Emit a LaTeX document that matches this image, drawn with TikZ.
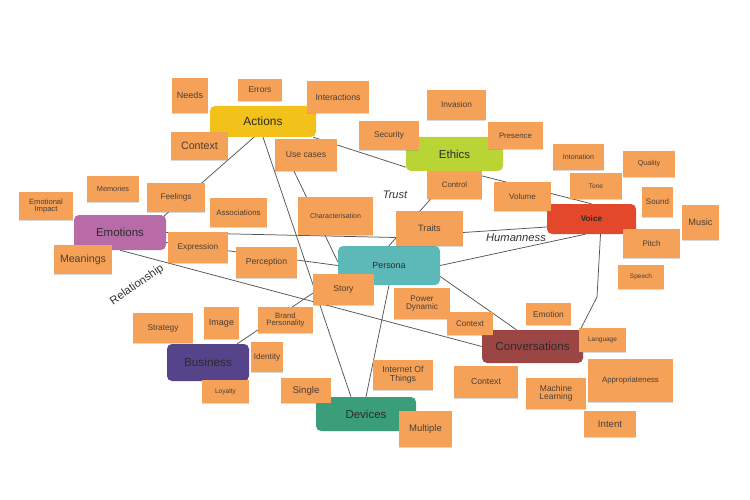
\documentclass[tikz,border=0pt]{standalone}
\usepackage{fontspec}
\setmainfont{Liberation Sans}
\usetikzlibrary{shadows,calc}
\definecolor{notefill}{HTML}{F5A157}
\definecolor{notetext}{HTML}{4A3F38}
\definecolor{hubtext}{HTML}{2B2B2B}
\definecolor{linec}{HTML}{555555}
\definecolor{lblc}{HTML}{333333}
\definecolor{actc}{HTML}{F2C21B}
\definecolor{ethc}{HTML}{B9D435}
\definecolor{voic}{HTML}{E4482A}
\definecolor{emoc}{HTML}{B96BA8}
\definecolor{perc}{HTML}{5CB9B7}
\definecolor{conc}{HTML}{9B4545}
\definecolor{busc}{HTML}{56448A}
\definecolor{devc}{HTML}{3A9E7B}
\pgfdeclarelayer{bg}
\pgfsetlayers{bg,main}
\begin{document}
\begin{tikzpicture}[x=1pt,y=-1pt,
  fs/.style={font=\fontsize{#1}{#1}\selectfont},
  sz/.style 2 args={minimum width=#1, minimum height=#2},
  note/.style={fill=notefill, draw=none, inner sep=0pt, align=center, text=notetext,
    drop shadow={shadow xshift=0.4pt, shadow yshift=-1.4pt, opacity=0.3}},
  hub/.style={fill=#1, rounded corners=5pt, inner sep=0pt, align=center, text=hubtext},
  link/.style={draw=linec, line width=0.75pt},
  lbl/.style={text=lblc, inner sep=0pt}]
\useasboundingbox (0,0) rectangle (750,500);
% hubs
\node[hub=actc, sz={106}{31}, fs=11.9] (actions) at (263,121.5) {Actions};
\node[hub=ethc, sz={97}{34}, fs=11.4] (ethics) at (454.5,154) {Ethics};
\node[hub=voic, sz={89}{30}, font=\fontsize{8.2}{8.2}\selectfont\bfseries] (voice) at (591.5,219) {Voice};
\node[hub=emoc, sz={92}{35}, fs=11.5] (emotions) at (120,232.5) {Emotions};
\node[hub=perc, sz={102}{39}, fs=8.9] (persona) at (389,265.5) {Persona};
\node[hub=conc, sz={101}{33}, fs=11.6] (conversations) at (532.5,346.5) {Conversations};
\node[hub=busc, sz={82}{37}, fs=11.8] (business) at (208,362.5) {Business};
\node[hub=devc, sz={100}{34}, fs=11.5] (devices) at (366,414) {Devices};
% notes
\node[note, sz={36}{35}, fs=9] (needs) at (190,95.5) {Needs};
\node[note, sz={44}{22}, fs=8.4] (errors) at (260,90) {Errors};
\node[note, sz={62}{32}, fs=8.7] (interactions) at (338,97) {Interactions};
\node[note, sz={57}{28}, fs=10.7] (contexta) at (199.5,146) {Context};
\node[note, sz={62}{32}, fs=8.6] (usecases) at (306,155) {Use cases};
\node[note, sz={52}{26}, fs=7.3] (memories) at (113,189) {Memories};
\node[note, sz={58}{29}, fs=8.2] (feelings) at (176,197.5) {Feelings};
\node[note, sz={54}{28}, fs=7.6] (emoimpact) at (46,206) {Emotional\\Impact};
\node[note, sz={57}{29}, fs=7.9] (associations) at (238.5,212.5) {Associations};
\node[note, sz={75}{38}, fs=7] (characterisation) at (335.5,216) {Characterisation};
\node[note, sz={60}{29}, fs=8.3] (security) at (389,135.5) {Security};
\node[note, sz={59}{30}, fs=8.3] (invasion) at (456.5,105) {Invasion};
\node[note, sz={55}{27}, fs=7.8] (presence) at (515.5,135.5) {Presence};
\node[note, sz={55}{28}, fs=7.8] (control) at (454.5,185) {Control};
\node[note, sz={57}{29}, fs=8] (volume) at (522.5,196.5) {Volume};
\node[note, sz={67}{35}, fs=9.2] (traits) at (429.5,228.5) {Traits};
\node[note, sz={51}{26}, fs=7.1] (intonation) at (578.5,157) {Intonation};
\node[note, sz={52}{26}, fs=7.1] (quality) at (649,164) {Quality};
\node[note, sz={52}{26}, fs=6.6] (tone) at (596,186) {Tone};
\node[note, sz={31}{30}, fs=8] (sound) at (657.5,202) {Sound};
\node[note, sz={37}{35}, fs=9.2] (music) at (700.5,222.5) {Music};
\node[note, sz={57}{29}, fs=8.1] (pitch) at (651.5,243.5) {Pitch};
\node[note, sz={46}{24}, fs=6.5] (speech) at (641,277) {Speech};
\node[note, sz={58}{29}, fs=10.6] (meanings) at (83,259.5) {Meanings};
\node[note, sz={60}{31}, fs=8.2] (expression) at (198,247.5) {Expression};
\node[note, sz={61}{31}, fs=8.6] (perception) at (266.5,262.5) {Perception};
\node[note, sz={61}{31}, fs=8.6] (story) at (343.5,289.5) {Story};
\node[note, sz={56}{31}, fs=8.2] (powerdyn) at (422,303.5) {Power\\Dynamic};
\node[note, sz={55}{26}, fs=7.7] (brand) at (285.5,320) {Brand\\Personality};
\node[note, sz={60}{30}, fs=8.3] (strategy) at (163,328) {Strategy};
\node[note, sz={35}{32}, fs=9] (image) at (221.5,323) {Image};
\node[note, sz={32}{30}, fs=8.2] (identity) at (267,357) {Identity};
\node[note, sz={47}{23}, fs=6.6] (loyalty) at (225.5,391.5) {Loyalty};
\node[note, sz={50}{25}, fs=9.7] (single) at (306,390.5) {Single};
\node[note, sz={60}{30}, fs=8.7] (iot) at (403,375) {Internet Of\\Things};
\node[note, sz={53}{36}, fs=9.5] (multiple) at (425.5,429) {Multiple};
\node[note, sz={45}{22}, fs=8.4] (emotion) at (548.5,314) {Emotion};
\node[note, sz={46}{23}, fs=8.1] (contextb) at (470,323.5) {Context};
\node[note, sz={47}{24}, fs=6.5] (language) at (602.5,340) {Language};
\node[note, sz={64}{32}, fs=8.7] (contextc) at (486,382) {Context};
\node[note, sz={60}{31}, fs=8.5] (ml) at (556,393.5) {Machine\\Learning};
\node[note, sz={85}{43}, fs=7.8] (appropriateness) at (630.5,380.5) {Appropriateness};
\node[note, sz={52}{26}, fs=9.6] (intent) at (610,424) {Intent};
% edge labels
\node[lbl, font=\fontsize{11}{11}\selectfont\itshape] (trust) at (395,195) {Trust};
\node[lbl, font=\fontsize{11.2}{11.2}\selectfont\itshape] (humanness) at (516,238) {Humanness};
\node[lbl, fs=11.3, rotate=34.5] (relationship) at (137,285) {Relationship};
\coordinate (vbend) at (597,297);
\begin{pgfonlayer}{bg}
\fill[white] (0,0) rectangle (750,500);
\draw[link] ([xshift=-9pt]actions.south) -- ([shift={(-3pt,-2pt)}]emotions.north east);
\draw[link] ([xshift=-3pt]actions.south east) -- ([yshift=4pt]ethics.south west);
\draw[link] (actions.south) -- ([xshift=-15pt]devices.north);
\draw[link] ([xshift=-12pt]usecases.south) -- ([yshift=-16pt]persona.north west);
\draw[link] (emotions.east) -- ([yshift=-9pt]traits.west);
\draw[link] ([yshift=-10pt]emotions.east) -- (persona.west);
\draw[link] (emotions.south) -- (conversations.west);
\draw[link] ([yshift=-11pt]persona.west) -- ([xshift=-12pt]business.north east);
\draw[link] (persona.south) -- (devices.north);
\draw[link] (persona.north) -- ([xshift=-24pt]control.south);
\draw[link] ([xshift=9pt]ethics.south) -- (voice.north);
\draw[link] ([yshift=-4pt]traits.east) -- ([yshift=-8pt]voice.west);
\draw[link] (persona.east) -- ([xshift=-6pt]voice.south);
\draw[link] ([yshift=-11pt]persona.east) -- ([xshift=-16pt]conversations.north);
\draw[link] ([xshift=9pt]voice.south) -- (vbend) -- ([xshift=-3pt]conversations.north east);
\end{pgfonlayer}
\end{tikzpicture}
\end{document}
